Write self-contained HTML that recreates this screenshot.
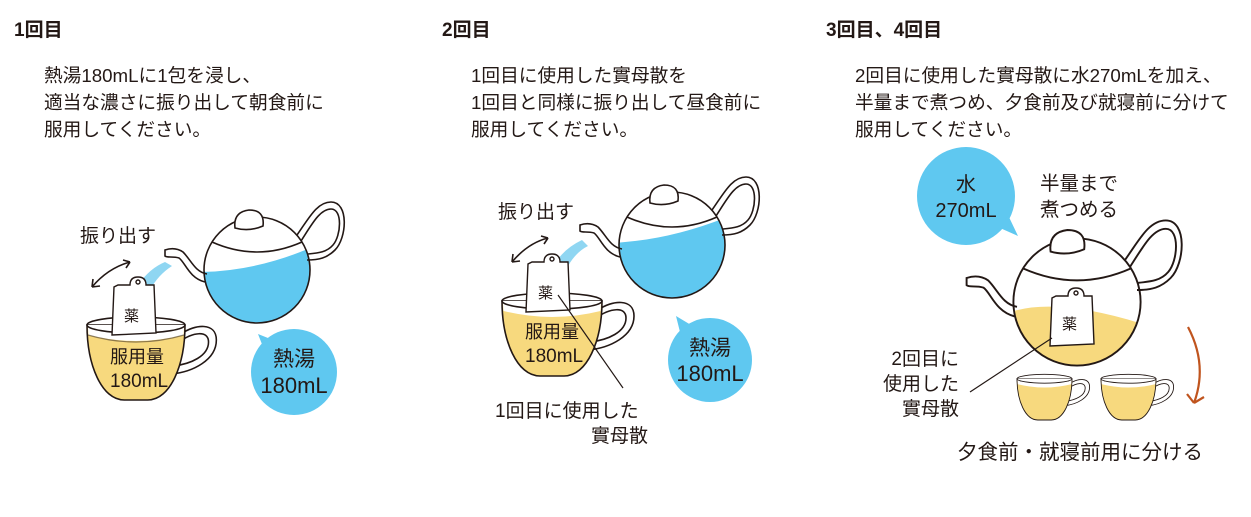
<!DOCTYPE html>
<html><head><meta charset="utf-8"><style>
body{margin:0;background:#fff;width:1251px;height:517px;overflow:hidden;font-family:"Liberation Sans","Noto Sans CJK JP",sans-serif;color:#231815}
svg{position:absolute;left:0;top:0}
text{font-family:"Liberation Sans","Noto Sans CJK JP",sans-serif;fill:#231815}
</style></head><body>
<svg width="1251" height="517" viewBox="0 0 1251 517">
<defs>
<clipPath id="cb"><circle cx="0" cy="0" r="53"/></clipPath>
<g id="potline" fill="none" stroke="#231815" stroke-width="1.6">
 <circle cx="0" cy="0" r="53" fill="none"/>
 <path d="M-45,-28 Q0,-8 45,-28"/>
 <path d="M-22,-42 Q-24,-58 -8,-60 Q8,-60 6,-44 Q-8,-38 -22,-42Z" fill="#fff"/>
 <path d="M40,-35 C52,-52 60,-68 74,-68 C92,-68 90,-32 78,-20 C70,-12 62,-10 50,-10"/>
 <path d="M44,-29 C55,-46 63,-61 74,-61 C86,-61 84,-34 76,-25 C70,-18 62,-17 51,-16"/>
 <path d="M-52,12 C-68,8 -72,-8 -78,-12 C-84,-14 -90,-12 -92,-14 L-92,-20 C-86,-22 -80,-22 -74,-18 C-66,-10 -62,2 -50,4"/>
</g>
<g id="cup" stroke="#231815" stroke-width="1.6">
 <path d="M96,14 C110,4 132,2 132,20 C132,40 108,52 86,54" fill="none"/>
 <path d="M94,22 C108,12 124,10 124,22 C124,36 106,44 88,46" fill="none"/>
 <path d="M0,5 C0,45 15,80 38,80 L62,80 C85,80 100,45 100,5 Z" fill="#f7d97e"/>
 <path d="M0.8,5 L99.2,5 L98.5,15 Q50,27 1.5,15Z" fill="#fff" stroke="none"/>
 <ellipse cx="50" cy="5" rx="50" ry="8" fill="none"/>
</g>
<g id="bag" stroke="#231815" stroke-width="1.4" fill="#fff">
 <path d="M-16,-28 L-4,-28 Q-4,-36 4,-36 Q12,-36 12,-28 L20,-28 L22,20 L-22,22 L-20,-26Z"/>
 <circle cx="4" cy="-31" r="2"/>
</g>
</defs>

<!-- headings -->
<text x="14" y="36" font-size="19" font-weight="bold">1回目</text>
<text x="442" y="36" font-size="19" font-weight="bold">2回目</text>
<text x="826" y="36" font-size="19" font-weight="bold">3回目、4回目</text>

<g font-size="18.7">
<text x="44" y="82">熱湯180mLに1包を浸し、</text>
<text x="44" y="109">適当な濃さに振り出して朝食前に</text>
<text x="44" y="136">服用してください。</text>
<text x="471" y="82">1回目に使用した實母散を</text>
<text x="471" y="109">1回目と同様に振り出して昼食前に</text>
<text x="471" y="136">服用してください。</text>
<text x="855" y="82">2回目に使用した實母散に水270mLを加え、</text>
<text x="855" y="109">半量まで煮つめ、夕食前及び就寝前に分けて</text>
<text x="855" y="136">服用してください。</text>
</g>

<!-- Panel 1 -->
<g transform="translate(257,270)">
 <g clip-path="url(#cb)"><path d="M-60,2 Q0,2 60,-25 L60,60 L-60,60Z" fill="#5fc8f0"/></g>
 <use href="#potline"/>
</g>
<path d="M165,262 Q150,268 138,285 L150,290 Q158,275 172,266Z" fill="#8fd6f2"/>
<text x="80" y="242" font-size="19">振り出す</text>
<path d="M92,287 Q108,268 130,262 M92,287 l1,-8 M92,287 l8,-1 M130,262 l-7,-2 M130,262 l-4,6" fill="none" stroke="#231815" stroke-width="1.6"/>
<g transform="translate(87,320) scale(0.98,1)"><use href="#cup"/></g>
<g transform="translate(134,313)"><use href="#bag"/><text x="-10" y="8" font-size="15">薬</text></g>
<path d="M88,335 Q136,349 184,335" fill="none" stroke="#231815" stroke-width="1.2" opacity="0.5"/>
<text x="110" y="363" font-size="18">服用量</text>
<text x="110" y="387" font-size="19">180mL</text>
<circle cx="294" cy="372" r="43" fill="#5fc8f0"/>
<path d="M258,334 L265,352 L278,342Z" fill="#5fc8f0"/>
<text x="294" y="366" font-size="21" text-anchor="middle">熱湯</text>
<text x="294" y="393" font-size="22" text-anchor="middle">180mL</text>

<!-- Panel 2 -->
<g transform="translate(672,245)">
 <g clip-path="url(#cb)"><path d="M-60,-2 Q0,-5 60,-30 L60,60 L-60,60Z" fill="#5fc8f0"/></g>
 <use href="#potline"/>
</g>
<path d="M582,240 Q565,248 556,262 L568,266 Q576,252 588,246Z" fill="#8fd6f2"/>
<text x="498" y="218" font-size="19">振り出す</text>
<path d="M512,262 Q528,243 548,238 M512,262 l1,-8 M512,262 l8,-1 M548,238 l-7,-2 M548,238 l-4,6" fill="none" stroke="#231815" stroke-width="1.6"/>
<g transform="translate(502,296)"><use href="#cup"/></g>
<g transform="translate(548,290)"><use href="#bag"/><text x="-10" y="8" font-size="15">薬</text></g>
<line x1="558" y1="295" x2="623" y2="388" stroke="#231815" stroke-width="1.2"/>
<text x="525" y="338" font-size="18">服用量</text>
<text x="525" y="362" font-size="19">180mL</text>
<circle cx="710" cy="360" r="42" fill="#5fc8f0"/>
<path d="M676,316 L682,340 L696,328Z" fill="#5fc8f0"/>
<text x="710" y="355" font-size="21" text-anchor="middle">熱湯</text>
<text x="710" y="381" font-size="22" text-anchor="middle">180mL</text>
<text x="495" y="417" font-size="19">1回目に使用した</text>
<text x="591" y="442" font-size="19">實母散</text>

<!-- Panel 3 -->
<circle cx="966" cy="196" r="49" fill="#5fc8f0"/>
<path d="M1000,228 L1018,236 L1008,215Z" fill="#5fc8f0"/>
<text x="966" y="191" font-size="20" text-anchor="middle">水</text>
<text x="966" y="217" font-size="20" text-anchor="middle">270mL</text>
<text x="1040" y="190" font-size="19.5">半量まで</text>
<text x="1040" y="216" font-size="19.5">煮つめる</text>
<g transform="translate(1077,302) scale(1.2)">
 <g clip-path="url(#cb)"><path d="M-60,10 Q-20,-6 60,20 L60,60 L-60,60Z" fill="#f7d97e"/></g>
 <use href="#potline"/>
</g>
<g transform="translate(1072,324)"><use href="#bag"/><text x="-10" y="5" font-size="15">薬</text></g>
<line x1="1052" y1="338" x2="970" y2="392" stroke="#231815" stroke-width="1.2"/>
<text x="959" y="365" font-size="19" text-anchor="end">2回目に</text>
<text x="959" y="390" font-size="19" text-anchor="end">使用した</text>
<text x="959" y="415" font-size="19" text-anchor="end">實母散</text>
<g transform="translate(1017,376) scale(0.55)"><use href="#cup"/></g>
<g transform="translate(1101,376) scale(0.55)"><use href="#cup"/></g>
<path d="M1188,327 Q1208,365 1194,403 M1194,403 l-7,-9 M1194,403 l10,-6" fill="none" stroke="#c0541e" stroke-width="2.2"/>
<text x="957" y="459" font-size="20.5">夕食前・就寝前用に分ける</text>
</svg>
</body></html>
